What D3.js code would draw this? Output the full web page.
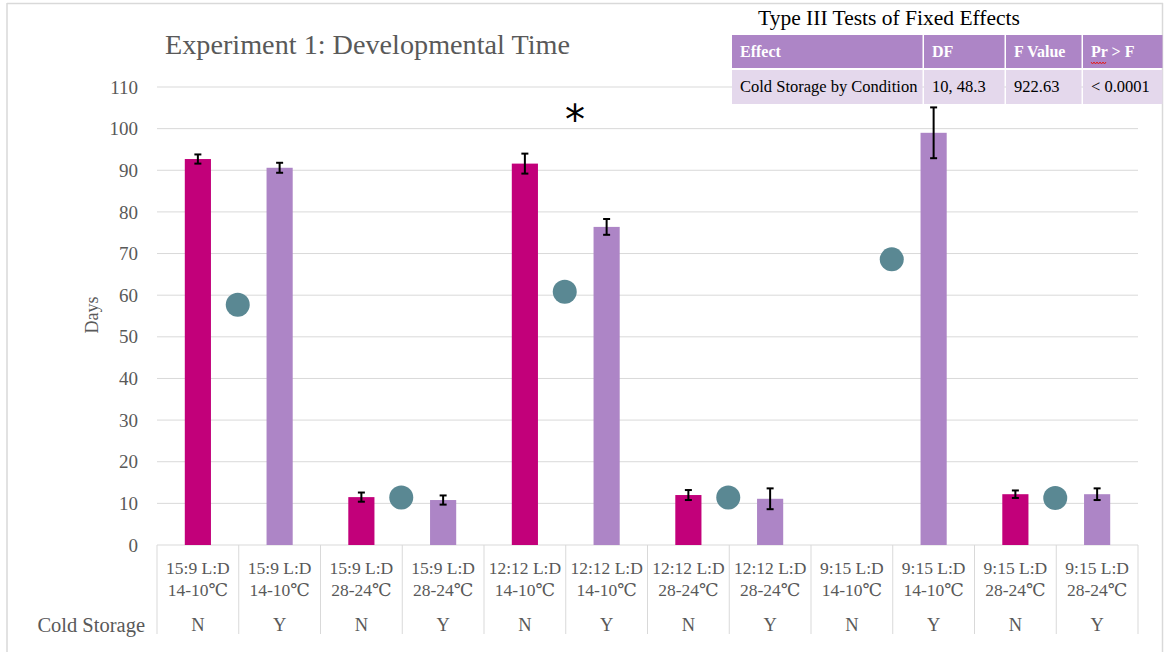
<!DOCTYPE html>
<html>
<head>
<meta charset="utf-8">
<script src="https://cdn.jsdelivr.net/npm/d3@7"></script>
<style>
  body { margin: 0; background: #fff; }
  svg { display: block; }
  text { font-family: "Liberation Serif", "DejaVu Serif", serif; }
</style>
</head>
<body>
<div id="chart"></div>
<script>
// data
const lightDark = ['15:9 L:D', '15:9 L:D', '15:9 L:D', '15:9 L:D', '12:12 L:D', '12:12 L:D',
                   '12:12 L:D', '12:12 L:D', '9:15 L:D', '9:15 L:D', '9:15 L:D', '9:15 L:D'];
const temps = ['14-10\u2103', '14-10\u2103', '28-24\u2103', '28-24\u2103', '14-10\u2103', '14-10\u2103',
               '28-24\u2103', '28-24\u2103', '14-10\u2103', '14-10\u2103', '28-24\u2103', '28-24\u2103'];
const coldStorage = ['N', 'Y', 'N', 'Y', 'N', 'Y', 'N', 'Y', 'N', 'Y', 'N', 'Y'];
const days = [92.7, 90.6, 11.5, 10.8, 91.6, 76.4, 12.0, 11.1, 0, 99.0, 12.2, 12.2];
const errors = [1.1, 1.2, 1.1, 1.1, 2.4, 1.9, 1.2, 2.5, 0, 6.1, 0.9, 1.4];
const markerValues = [57.7, 11.4, 60.8, 11.4, 68.6, 11.3]; // one per N/Y pair
const yTicks = [0, 10, 20, 30, 40, 50, 60, 70, 80, 90, 100, 110];

const tableHead = ['Effect', 'DF', 'F Value', 'Pr > F'];
const tableRow = ['Cold Storage by Condition', '10, 48.3', '922.63', '< 0.0001'];

const width = 1166;
const height = 657;
const grey = '#595959';
const colN = '#c2007a';
const colY = '#ad85c6';

const svg = d3.select('#chart').append('svg')
  .attr('width', width)
  .attr('height', height);

// frame lines
svg.append('line').attr('x1', 7).attr('x2', 1163).attr('y1', 3.5).attr('y2', 3.5)
  .attr('stroke', '#d9d9d9').attr('stroke-width', 1.5);
svg.append('line').attr('x1', 7).attr('x2', 7).attr('y1', 3).attr('y2', 652)
  .attr('stroke', '#d9d9d9').attr('stroke-width', 1.5);
svg.append('line').attr('x1', 1162.5).attr('x2', 1162.5).attr('y1', 3).attr('y2', 652)
  .attr('stroke', '#d9d9d9').attr('stroke-width', 1.5);

const idx = d3.range(days.length);
const x = d3.scaleBand().domain(idx).range([157, 1138]).padding(0);
const y = d3.scaleLinear().domain([0, 110]).range([545, 87]);
const barW = x.bandwidth() * 0.32;

// gridlines
svg.append('g').selectAll('line').data(yTicks).enter().append('line')
  .attr('x1', 157).attr('x2', 1138)
  .attr('y1', d => y(d)).attr('y2', d => y(d))
  .attr('stroke', '#d9d9d9').attr('stroke-width', 1);

// y axis labels
const yAxis = d3.axisLeft(y).tickValues(yTicks).tickSize(0).tickPadding(19);
svg.append('g').attr('transform', 'translate(157,0)').call(yAxis)
  .call(g => g.select('.domain').remove())
  .call(g => g.selectAll('text')
    .attr('fill', grey).style('font-size', '19px')
    .style('font-family', '"Liberation Serif", serif'));

svg.append('text')
  .attr('transform', 'translate(98,315) rotate(-90)')
  .attr('text-anchor', 'middle')
  .attr('fill', grey).style('font-size', '18px')
  .text('Days');

// category table below axis
const cat = svg.append('g');
cat.selectAll('line').data(d3.range(days.length + 1)).enter().append('line')
  .attr('x1', d => d < days.length ? x(d) : x(days.length - 1) + x.bandwidth())
  .attr('x2', d => d < days.length ? x(d) : x(days.length - 1) + x.bandwidth())
  .attr('y1', 545).attr('y2', 634)
  .attr('stroke', '#d9d9d9').attr('stroke-width', 1);

cat.selectAll('.l1').data(idx).enter().append('text')
  .attr('x', d => x(d) + x.bandwidth() / 2).attr('y', 574)
  .attr('text-anchor', 'middle').attr('fill', grey).style('font-size', '17.5px')
  .text(d => lightDark[d]);
cat.selectAll('.l2').data(idx).enter().append('text')
  .attr('x', d => x(d) + x.bandwidth() / 2).attr('y', 596)
  .attr('text-anchor', 'middle').attr('fill', grey).style('font-size', '17.5px')
  .text(d => temps[d]);
cat.selectAll('.l3').data(idx).enter().append('text')
  .attr('x', d => x(d) + x.bandwidth() / 2).attr('y', 631)
  .attr('text-anchor', 'middle').attr('fill', grey).style('font-size', '18.5px')
  .text(d => coldStorage[d]);

svg.append('text').attr('x', 145).attr('y', 632)
  .attr('text-anchor', 'end').attr('fill', grey).style('font-size', '20.5px')
  .text('Cold Storage');

// bars
svg.append('g').selectAll('rect').data(idx.filter(i => days[i] > 0)).enter().append('rect')
  .attr('x', d => x(d) + (x.bandwidth() - barW) / 2)
  .attr('y', d => y(days[d]))
  .attr('width', barW)
  .attr('height', d => y(0) - y(days[d]))
  .attr('fill', d => coldStorage[d] === 'N' ? colN : colY);

// error bars
const eb = svg.append('g').attr('stroke', '#000').attr('stroke-width', 2);
idx.filter(i => errors[i] > 0).forEach(i => {
  const cx = x(i) + x.bandwidth() / 2;
  const y1 = y(days[i] + errors[i]);
  const y2 = y(days[i] - errors[i]);
  eb.append('line').attr('x1', cx).attr('x2', cx).attr('y1', y1).attr('y2', y2);
  eb.append('line').attr('x1', cx - 3.5).attr('x2', cx + 3.5).attr('y1', y1).attr('y2', y1);
  eb.append('line').attr('x1', cx - 3.5).attr('x2', cx + 3.5).attr('y1', y2).attr('y2', y2);
});

// circle markers between each N/Y pair
svg.append('g').selectAll('circle').data(markerValues).enter().append('circle')
  .attr('cx', (d, i) => x(i * 2 + 1) - 1)
  .attr('cy', d => y(d))
  .attr('r', 12)
  .attr('fill', '#5a8893');

// asterisk
svg.append('text').attr('x', 575).attr('y', 134)
  .attr('text-anchor', 'middle').attr('fill', '#000')
  .style('font-size', '40px').style('font-family', '"DejaVu Sans", sans-serif')
  .text('*');

// title
svg.append('text').attr('x', 165).attr('y', 54)
  .attr('fill', grey).style('font-size', '28px')
  .attr('textLength', 405).attr('lengthAdjust', 'spacingAndGlyphs')
  .text('Experiment 1: Developmental Time');

// stats table
const colX = [732, 924, 1006, 1083, 1164];
svg.append('text').attr('x', 889).attr('y', 25)
  .attr('text-anchor', 'middle').attr('fill', '#000').style('font-size', '21.5px')
  .text('Type III Tests of Fixed Effects');

const tbl = svg.append('g');
tableHead.forEach((t, i) => {
  tbl.append('rect').attr('x', colX[i]).attr('y', 35)
    .attr('width', colX[i + 1] - colX[i] - 1.5).attr('height', 33)
    .attr('fill', '#ad85c6');
  tbl.append('text').attr('x', colX[i] + 8).attr('y', 57)
    .attr('fill', '#fff').style('font-size', '16px').style('font-weight', 'bold')
    .text(t);
  tbl.append('rect').attr('x', colX[i]).attr('y', 70)
    .attr('width', colX[i + 1] - colX[i] - 1.5).attr('height', 34)
    .attr('fill', '#e4d8ec');
  tbl.append('text').attr('x', colX[i] + 8).attr('y', 92)
    .attr('fill', '#000').style('font-size', '16.5px')
    .text(tableRow[i]);
});
// spellcheck squiggle under "Pr"
const sq = d3.range(0, 16, 1.5).map((d, i) => [colX[3] + 8 + d, 62 + (i % 2 ? 2 : 0)]);
tbl.append('path').attr('d', d3.line()(sq))
  .attr('fill', 'none').attr('stroke', '#e02020').attr('stroke-width', 1);
</script>
</body>
</html>
